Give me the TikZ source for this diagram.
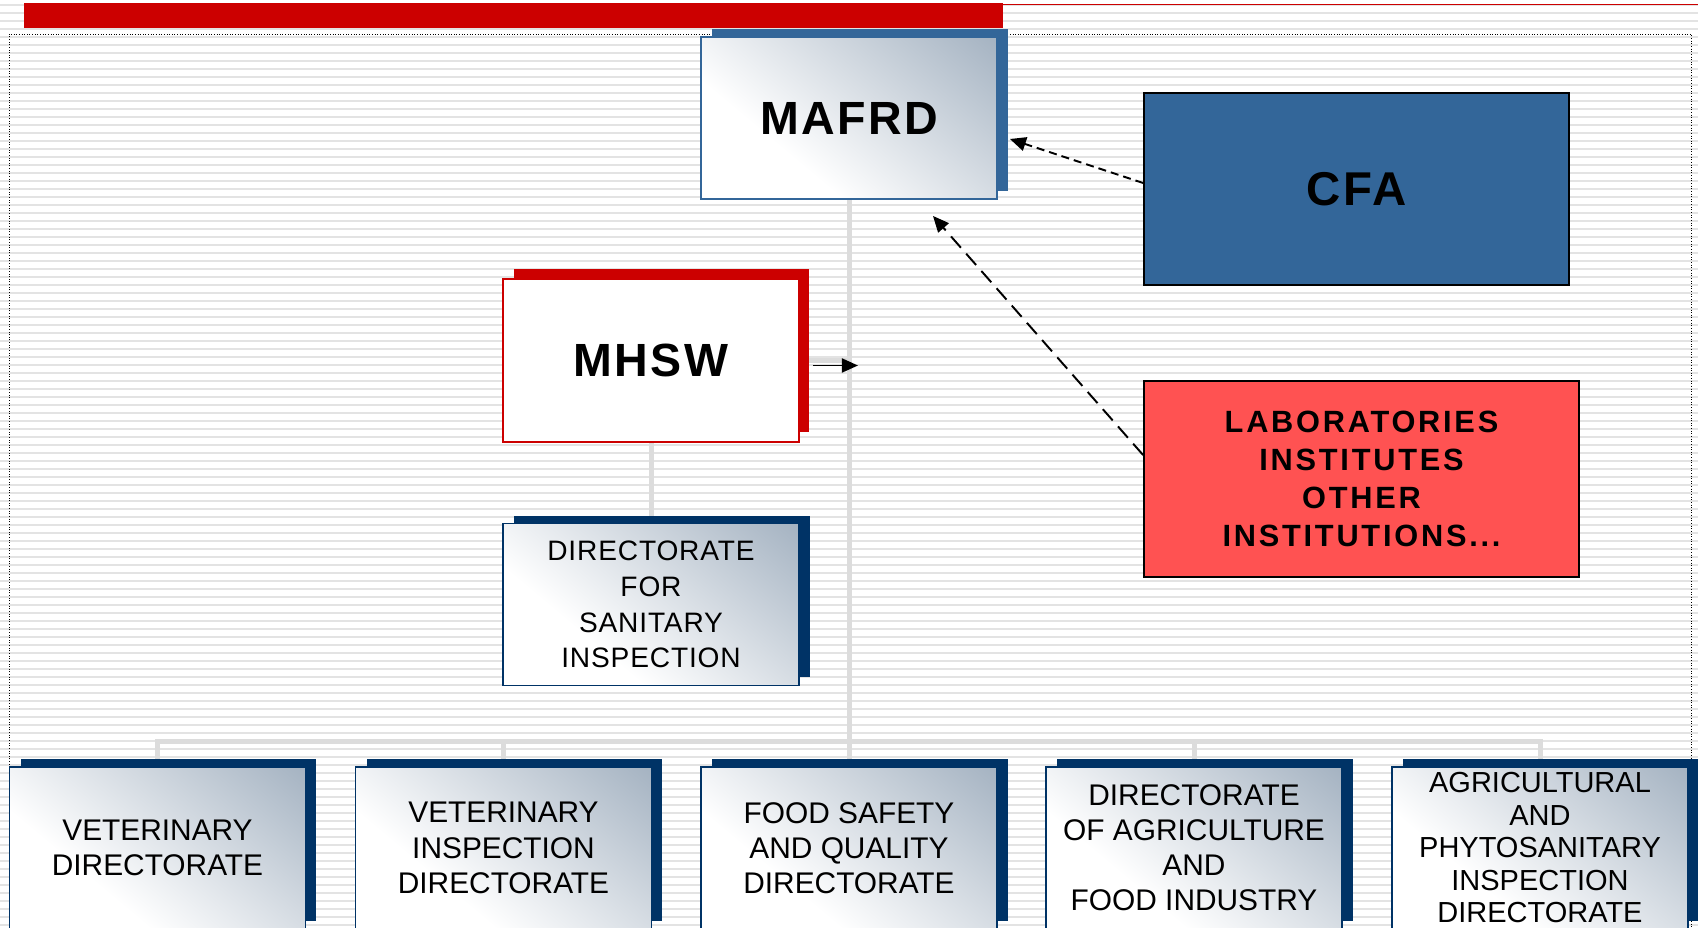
\documentclass[tikz,border=0pt]{standalone}
\usepackage{fontspec}
\setmainfont{Liberation Sans}
\newfontfamily\headfont[LetterSpace=5]{Liberation Sans}
\newfontfamily\labfont[LetterSpace=9]{Liberation Sans}
\newfontfamily\dirfont[LetterSpace=3]{Liberation Sans}
\usetikzlibrary{shadows, arrows.meta, backgrounds}
\definecolor{mablue}{HTML}{336699}
\definecolor{mared}{HTML}{CC0000}
\definecolor{manavy}{HTML}{003366}
\definecolor{labred}{HTML}{FF5252}
\definecolor{glassgray}{HTML}{A5B3C2}
\definecolor{linkgray}{HTML}{DCDCDC}
\definecolor{stripegray}{HTML}{E3E3E3}
\pgfdeclareverticalshading{glass}{100bp}{color(0bp)=(white); color(35bp)=(white); color(85bp)=(glassgray); color(100bp)=(glassgray)}
\tikzset{>={Triangle[length=0.32cm,width=0.28cm]},
         glassbox/.style={draw=manavy,line width=0.8pt,shade,shading=glass,shading angle=-40,
                          minimum width=5.92cm,minimum height=3.24cm,inner sep=0pt,align=center,
                          font=\fontsize{17}{20}\selectfont,
                          general shadow={shadow xshift=0.22cm,shadow yshift=0.16cm,fill=manavy}},
         headbox/.style={glassbox,draw=mablue,line width=1.1pt,
                         font=\headfont\bfseries\fontsize{26.5}{30}\selectfont,
                         general shadow={shadow xshift=0.22cm,shadow yshift=0.16cm,fill=mablue}},
         mhswbox/.style={draw=mared,fill=white,line width=1.1pt,minimum width=5.92cm,minimum height=3.26cm,
                         font=\headfont\bfseries\fontsize{26.5}{30}\selectfont,
                         general shadow={shadow xshift=0.21cm,shadow yshift=0.2cm,fill=mared}},
         cfabox/.style={draw=black,fill=mablue,line width=1.1pt,minimum width=8.5cm,minimum height=3.84cm,
                        font=\headfont\bfseries\fontsize{27}{30}\selectfont},
         labbox/.style={draw=black,fill=labred,line width=1.1pt,minimum width=8.7cm,minimum height=3.92cm,
                        align=center,font=\labfont\bfseries\fontsize{17.5}{21.6}\selectfont},
         link/.style={draw=linkgray,line width=0.1cm},
         ctrl/.style={->,line width=1.1pt}}
\begin{document}
\begin{tikzpicture}[x=0.02cm,y=-0.02cm]
    \useasboundingbox (0,0) rectangle (1698,928);
    \clip (0,0) rectangle (1698,928);
    \begin{scope}[on background layer]
        \fill[white] (0,0) rectangle (1698,928);
        \foreach \y in {5,13,...,925}
            \draw[stripegray,line width=0.05cm] (0,\y) -- (1698,\y);
    \end{scope}
    \fill[mared] (24,3) rectangle (1003,28);
    \draw[mared,line width=0.03cm] (1003,4.5) -- (1698,4.5);
    \draw[densely dotted,line width=0.5pt] (9,928) -- (9,34) -- (1691,34) -- (1691,928);

    \node[headbox](mafrd)at(849,118){MAFRD};
    \node[cfabox](cfa)at(1356.5,189){CFA};
    \node[mhswbox](mhsw)at(651,360.5){MHSW};
    \node[labbox](lab)at(1361.5,479){LABORATORIES\\INSTITUTES\\OTHER\\INSTITUTIONS...};
    \node[glassbox,font=\dirfont\fontsize{16}{20.3}\selectfont](dsi)at(651,604.5){DIRECTORATE\\FOR\\SANITARY\\INSPECTION};

    \node[glassbox](d1)at(157.5,848){VETERINARY\\DIRECTORATE};
    \node[glassbox](d2)at(503.5,848){VETERINARY\\INSPECTION\\DIRECTORATE};
    \node[glassbox](d3)at(849,848){FOOD SAFETY\\AND QUALITY\\DIRECTORATE};
    \node[glassbox](d4)at(1194,848){DIRECTORATE\\OF AGRICULTURE\\AND\\FOOD INDUSTRY};
    \node[glassbox,font=\fontsize{16.5}{18.5}\selectfont](d5)at(1540,848){AGRICULTURAL\\AND\\PHYTOSANITARY\\INSPECTION\\DIRECTORATE};

    \begin{scope}[on background layer]
        \coordinate(bus)at(849,742);
        \draw[link](mafrd.south) -- (bus);
        \foreach \d in {d1,d2,d3,d4,d5}
            \draw[link](\d.north) -- (\d.north |- bus) -- (bus);
        \draw[link](mhsw.south) -- (dsi.north);
        \draw[link](mhsw.east) -- (mhsw.east -| bus);
    \end{scope}

    \draw[->,line width=1.1pt]([shift={(13,5)}]mhsw.east) -- ++(45,0);
    \draw[ctrl,dash pattern=on 0.16cm off 0.1cm]([shift={(0,-6)}]cfa.west) -- ([shift={(12,21)}]mafrd.east);
    \draw[ctrl,dash pattern=on 0.3cm off 0.16cm]([shift={(0,-24)}]lab.west) -- ([shift={(84,16)}]mafrd.south);
\end{tikzpicture}
\end{document}
